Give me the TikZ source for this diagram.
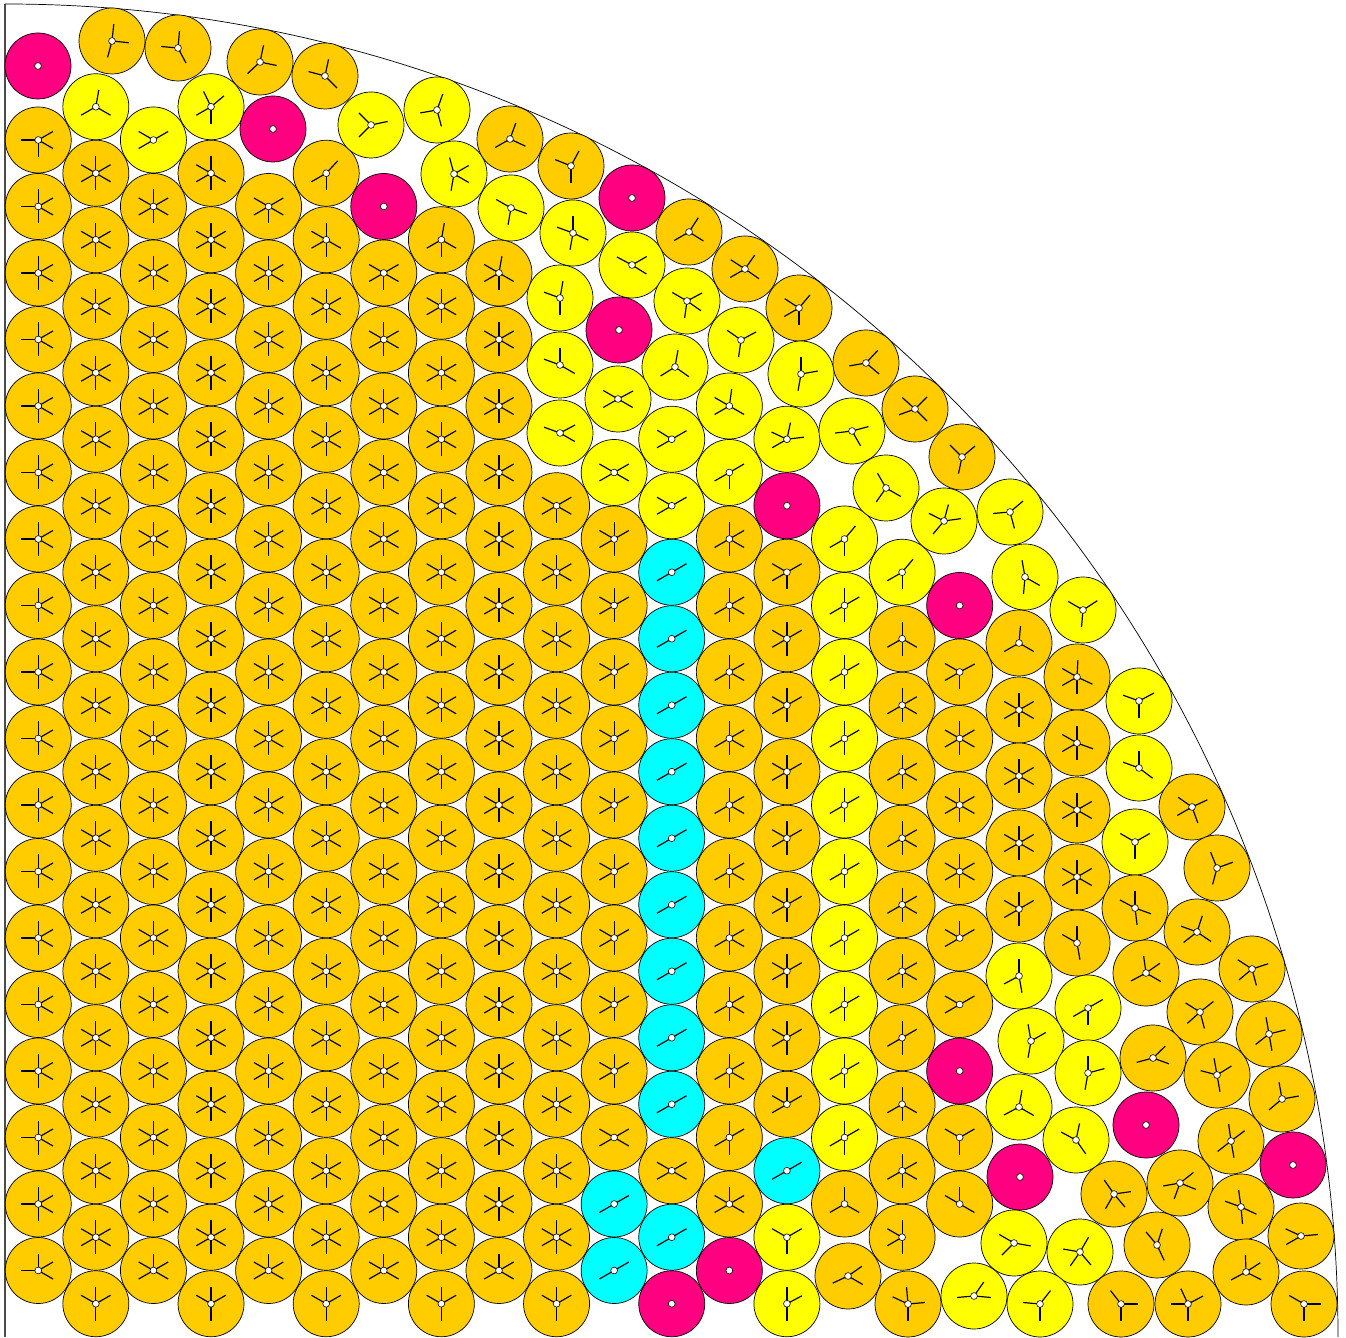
\documentclass[tikz,border=0pt]{standalone}
\usetikzlibrary{calc}
\definecolor{grainorange}{RGB}{255,204,0}
\definecolor{grainyellow}{RGB}{255,255,0}
\definecolor{graincyan}{RGB}{0,255,255}
\definecolor{grainmagenta}{RGB}{255,0,128}

% grain: centre x, y, fill, contact directions
\newcommand\grain[4]{%
  \path[grainbody, fill=#3] (#1,#2) circle[radius=33];
  \foreach \a in {#4} {\draw[contact] (#1,#2) -- ++(\a:17);}
  \path[hub] (#1,#2) circle[radius=3.4];}
% grain that carries no contacts
\newcommand\loosegrain[2]{%
  \path[grainbody, fill=grainmagenta] (#1,#2) circle[radius=33];
  \path[hub] (#1,#2) circle[radius=3.4];}
% grains on the packing lattice: column, row, ...
\newcommand\site[4]{%
  \pgfmathsetmacro\gx{38.25+57.59*#1}%
  \pgfmathsetmacro\gy{33.25*(2-mod(#1,2))+66.5*#2}%
  \grain{\gx}{\gy}{#3}{#4}}
\newcommand\loosesite[2]{%
  \pgfmathsetmacro\gx{38.25+57.59*#1}%
  \pgfmathsetmacro\gy{33.25*(2-mod(#1,2))+66.5*#2}%
  \loosegrain{\gx}{\gy}}

\begin{document}
\begin{tikzpicture}[
  x=0.3mm, y=0.3mm,
  grainbody/.style={draw=black, line width=0.6pt},
  contact/.style={black, line width=1pt},
  hub/.style={fill=white, draw=black, line width=0.5pt},
  wall/.style={black!70, line width=0.9pt},
  rim/.style={black, line width=0.6pt}
]
\useasboundingbox (0,0) rectangle (1346,1337);
\draw[wall] (5,0) -- (5,1333);
\draw[rim] (5,1333) arc[start angle=90, end angle=0, radius=1333];

% ordered part of the packing
\foreach \k in {1,...,16} {\site{0}{\k}{grainorange}{30,90,180,270,330}}
\site{0}{0}{grainorange}{30,90,180,330}
\site{0}{17}{grainorange}{30,180,270,330}
\foreach \i/\ka/\kb in {1/1/17,2/1/16,3/1/16,4/1/15,5/1/15,6/1/14,7/1/15,8/1/14,9/1/11,16/6/8} {
  \foreach \k in {\ka,...,\kb} {\site{\i}{\k}{grainorange}{30,90,150,210,270,330}}}
\foreach \i in {1,3,5,7,9} {\site{\i}{0}{grainorange}{30,90,150,270}}
\foreach \i in {2,4,6,8} {\site{\i}{0}{grainorange}{30,90,150,210,330}}
\site{3}{17}{grainorange}{90,150,210,270,330}
\site{4}{16}{grainorange}{30,150,210,270,330}
\site{5}{16}{grainorange}{90,150,210,270,330}
\site{5}{17}{grainorange}{47,210,270}
\site{6}{15}{grainorange}{30,150,210,270,330}
\site{7}{16}{grainorange}{80,210,270,330}
\site{8}{15}{grainorange}{80,150,210,270,330}
\site{9}{12}{grainorange}{30,150,210,270,330}
\site{10}{2}{grainorange}{30,150,210,330}
\foreach \k in {3,...,11} {\site{10}{\k}{grainorange}{30,90,150,210,270}}
\site{11}{2}{grainorange}{30,150,210,330}
\site{12}{1}{grainorange}{30,90,150,210,330}
\site{12}{2}{grainorange}{30,90,210,270}
\foreach \k in {3,...,11} {\site{12}{\k}{grainorange}{30,90,210,270,330}}
\site{13}{3}{grainorange}{30,90,150,210}
\foreach \k in {4,...,10} {\site{13}{\k}{grainorange}{30,90,150,210,270}}
\site{13}{11}{grainorange}{30,150,210,270}
\site{14}{1}{grainorange}{90,210,330}
\site{15}{1}{grainorange}{90,150,210,270}
\site{15}{2}{grainorange}{30,90,210,270,330}
\site{15}{3}{grainorange}{90,210,270,330}
\site{15}{4}{grainorange}{30,90,210,270}
\foreach \k in {5,...,9} {\site{15}{\k}{grainorange}{30,90,210,270,330}}
\site{15}{10}{grainorange}{90,210,270,330}
\site{16}{1}{grainorange}{90,150,330}
\site{16}{2}{grainorange}{30,150,270}
\site{16}{4}{grainorange}{30,150,210}
\site{16}{5}{grainorange}{30,90,150,210}
\site{16}{9}{grainorange}{28,150,210,270}

\foreach \i/\k in {10/0,10/1,11/1,13/2} {\site{\i}{\k}{graincyan}{30,210}}
\foreach \k in {3,...,11} {\site{11}{\k}{graincyan}{30,210}}

\foreach \i/\k in {6/16,11/0,12/0,13/12,16/3,16/10} {\loosesite{\i}{\k}}

\site{1}{18}{grainyellow}{80,210,330}
\site{2}{17}{grainyellow}{30,150,210}
\site{3}{18}{grainyellow}{40,116,210,270}
\site{10}{12}{grainyellow}{30,150,210,330}
\site{11}{12}{grainyellow}{30,150,210}
\site{11}{13}{grainyellow}{30,148,210}
\site{12}{12}{grainyellow}{30,210,270}
\site{12}{13}{grainyellow}{82,150,210,330}
\site{13}{0}{grainyellow}{28,90,270}
\site{13}{1}{grainyellow}{30,150,270}
\site{13}{13}{grainyellow}{7,78,155,210}
\foreach \k in {2,...,10} {\site{14}{\k}{grainyellow}{30,90,210,270}}
\site{14}{11}{grainyellow}{50,210,270}
\site{15}{11}{grainyellow}{50,210,270}

% loose part along the rim
\foreach \x/\y in {38/1271,273/1208,632/1139,619/1007,1146/212,1293/172,1020/160} {\loosegrain{\x}{\y}}
\grain{112}{1296}{grainorange}{84,354,255}
\grain{178}{1289}{grainorange}{85,175,298}
\grain{260}{1275}{grainorange}{78,348,223}
\grain{325}{1261}{grainorange}{78,165,315}
\grain{371}{1212}{grainyellow}{135,12,225}
\grain{437}{1227}{grainyellow}{70,190,285}
\grain{454}{1163}{grainyellow}{105,30,260,330}
\grain{510}{1198}{grainorange}{70,210,335}
\grain{511}{1129}{grainyellow}{150,340,260}
\grain{571}{1171}{grainorange}{62,158,270}
\grain{689}{1105}{grainorange}{57,210,328}
\grain{573}{1104}{grainyellow}{90,160,335,260}
\grain{632}{1072}{grainyellow}{152,30,328}
\grain{745}{1068}{grainorange}{55,147,210,325}
\grain{799}{1029}{grainorange}{50,147,210,270}
\grain{560}{1039}{grainyellow}{80,160,270}
\grain{687}{1036}{grainyellow}{150,28,262,325}
\grain{741}{997}{grainyellow}{145,28,262}
\grain{560}{972}{grainyellow}{90,160,330}
\grain{675}{970}{grainyellow}{80,212,325}
\grain{801}{963}{grainyellow}{90,10,260}
\grain{866}{974}{grainorange}{190,47,320}
\grain{618}{938}{grainyellow}{150,28,210,330}
\grain{915}{928}{grainorange}{138,45,200,315}
\grain{560}{904}{grainyellow}{160,28,330}
\grain{852}{906}{grainyellow}{187,15,300}
\grain{962}{880}{grainorange}{135,40,258}
\grain{886}{849}{grainyellow}{120,330,235}
\grain{944}{816}{grainyellow}{75,153,8,230}
\grain{1010}{825}{grainyellow}{185,40,285}
\grain{1025}{760}{grainyellow}{100,330,265}
\grain{1083}{727}{grainyellow}{150,33,265}
\grain{1019}{694}{grainorange}{85,210,330}
\grain{1019}{627}{grainorange}{30,90,150,210,270,330}
\grain{1019}{561}{grainorange}{30,90,150,210,270,330}
\grain{1019}{494}{grainorange}{30,90,150,210,270,330}
\grain{1019}{428}{grainorange}{30,90,150,210,270}
\grain{1077}{660}{grainorange}{87,150,210,270,335}
\grain{1077}{594}{grainorange}{90,150,210,270,340}
\grain{1077}{527}{grainorange}{30,90,150,210,270,330}
\grain{1077}{460}{grainorange}{30,90,150,210,270,330}
\grain{1077}{394}{grainorange}{90,150,280}
\grain{1139}{636}{grainyellow}{160,28,270}
\grain{1139}{569}{grainyellow}{90,160,323}
\grain{1192}{530}{grainorange}{145,25,210,290}
\grain{1135}{495}{grainyellow}{150,30,270}
\grain{1217}{469}{grainorange}{112,20,255}
\grain{1135}{429}{grainorange}{90,152,340,277}
\grain{1197}{405}{grainorange}{72,160,326,218}
\grain{1146}{364}{grainorange}{98,35,208,330}
\grain{1252}{368}{grainorange}{147,18,285,220}
\grain{1200}{325}{grainorange}{38,148,222,285}
\grain{1269}{303}{grainorange}{100,14,218,280}
\grain{1153}{279}{grainorange}{195,44,340}
\grain{1217}{262}{grainorange}{100,165,32,280}
\grain{1282}{238}{grainorange}{100,10,220}
\grain{1088}{329}{grainyellow}{30,210,270}
\grain{1019}{361}{grainyellow}{90,208,280}
\grain{1031}{296}{grainyellow}{100,30,260}
\grain{1088}{264}{grainyellow}{90,15,260}
\grain{1019}{230}{grainyellow}{80,208,330}
\grain{1076}{197}{grainyellow}{78,152,305}
\grain{1231}{196}{grainorange}{98,37,218,280}
\grain{1114}{143}{grainorange}{125,8,240,310}
\grain{1180}{154}{grainorange}{190,38,250,338}
\grain{1241}{130}{grainorange}{98,160,335,275}
\grain{1301}{101}{grainorange}{155,5,210}
\grain{1014}{94}{grainyellow}{150,350,225}
\grain{1080}{85}{grainyellow}{170,60,310,235}
\grain{1157}{92}{grainorange}{72,130,295}
\grain{1246}{65}{grainorange}{92,33,208,333}
\grain{974}{41}{grainyellow}{185,355,55}
\grain{1040}{33}{grainyellow}{52,175,270}
\grain{1121}{33}{grainorange}{128,0,270}
\grain{1188}{33}{grainorange}{180,115,28,270}
\grain{1304}{33}{grainorange}{150,0,270}
\grain{908}{33}{grainorange}{95,155,5,270}
\grain{848}{61}{grainorange}{35,205,330}
\end{tikzpicture}
\end{document}
